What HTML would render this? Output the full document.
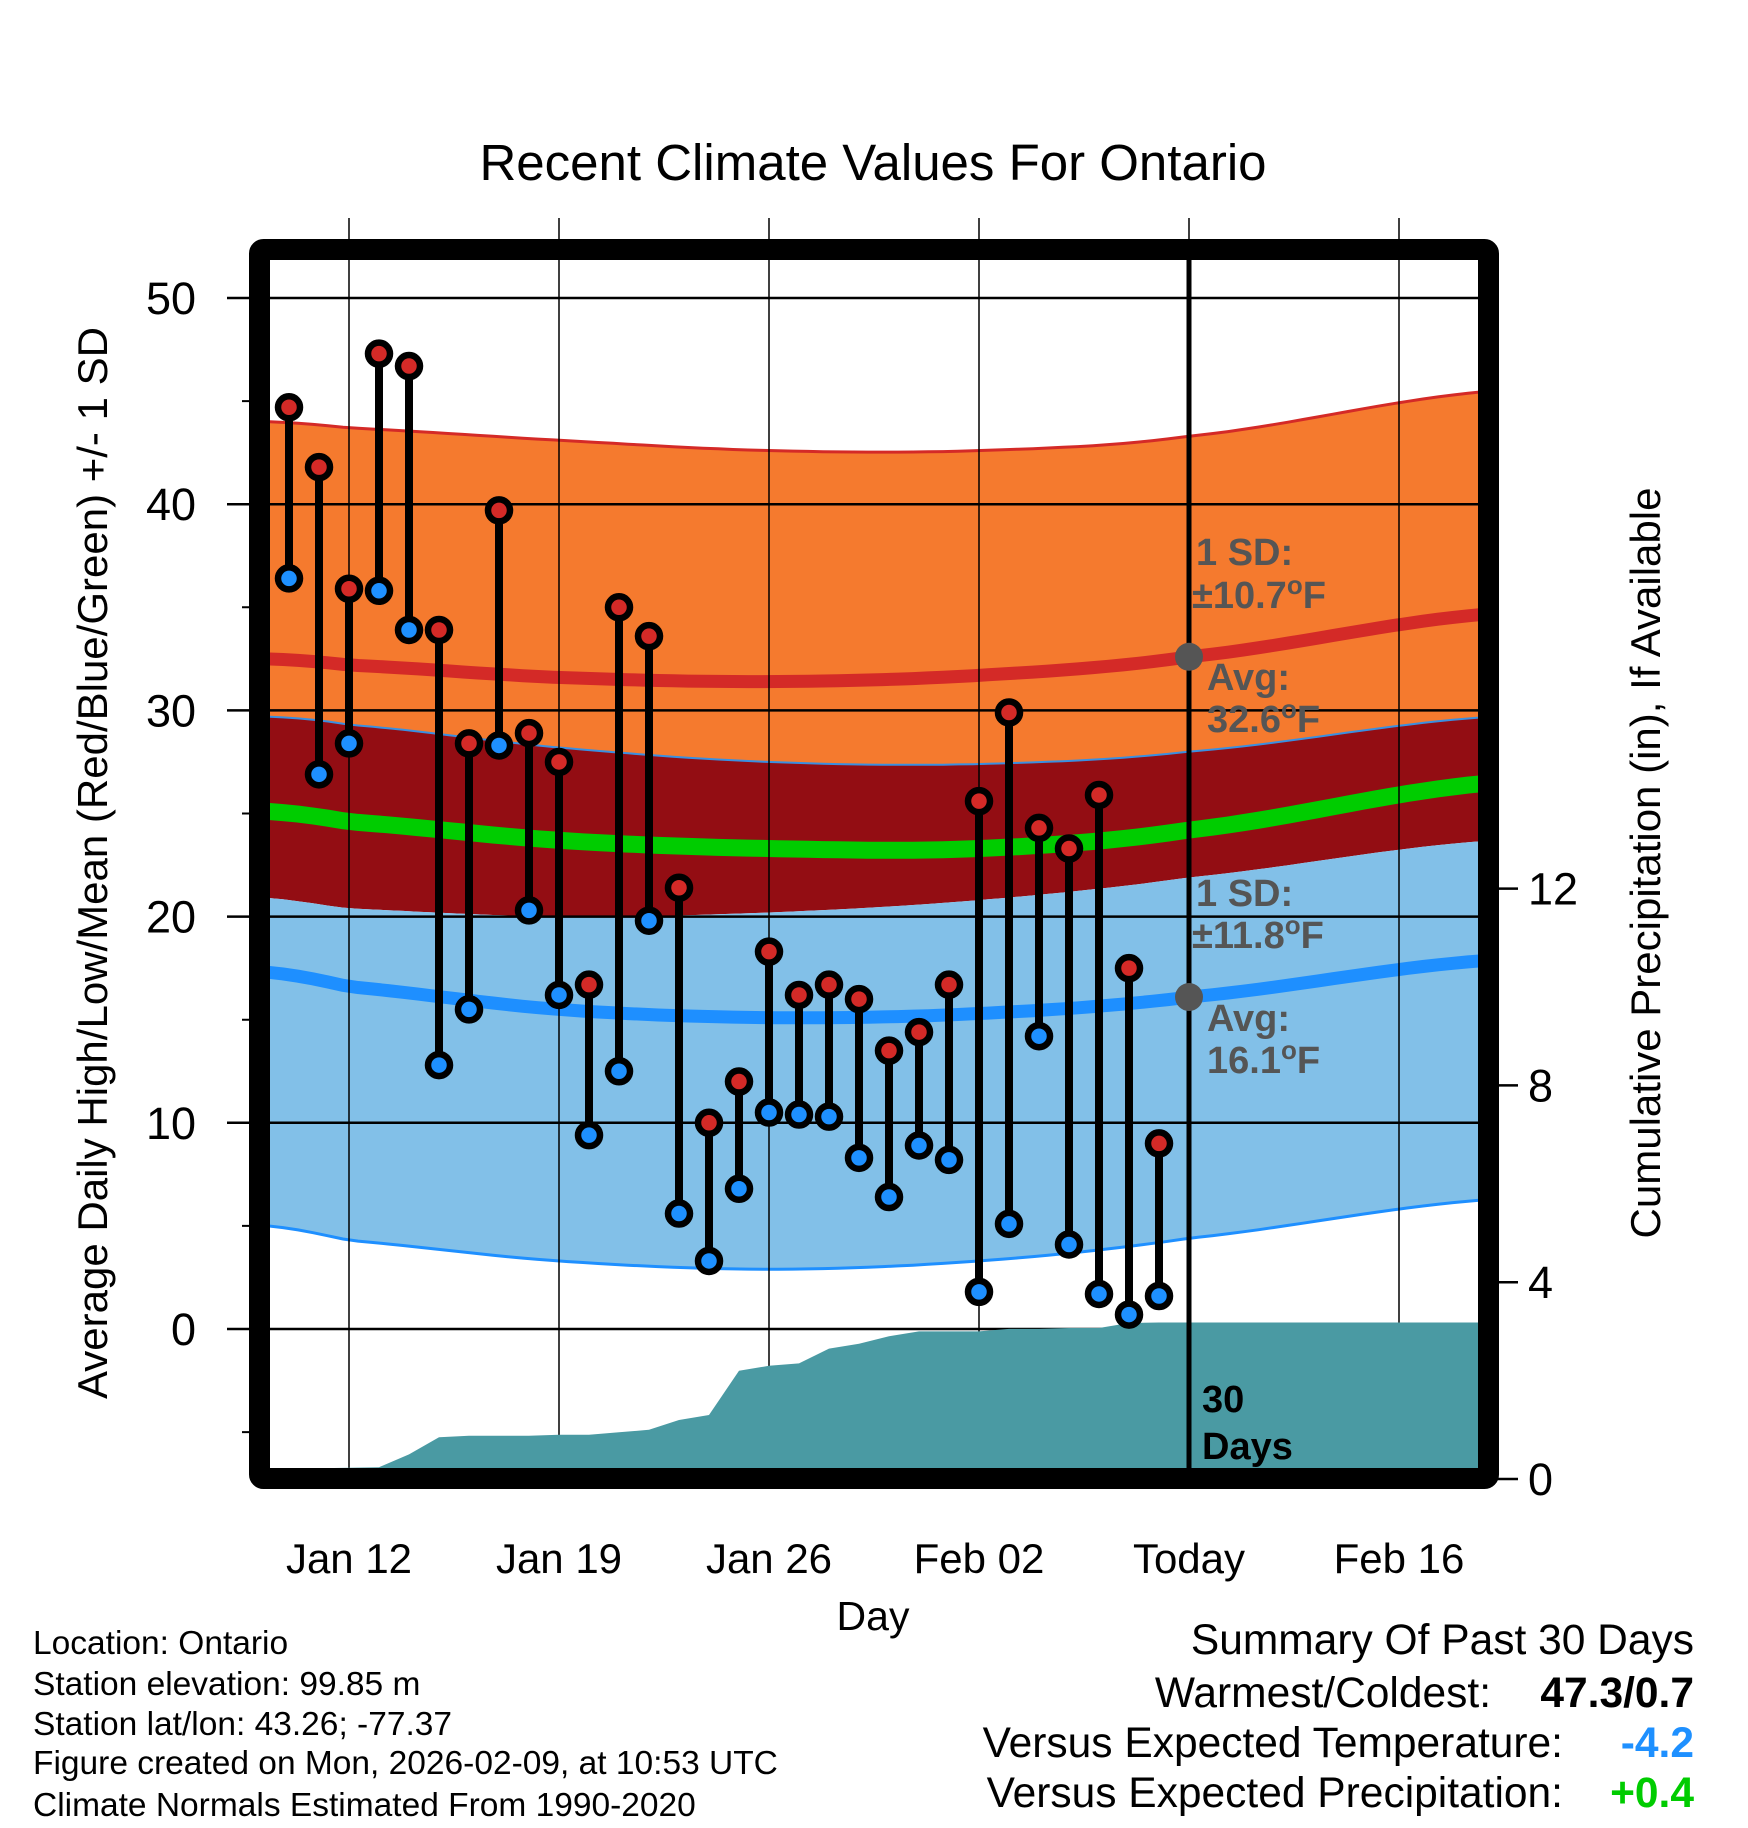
<!DOCTYPE html>
<html><head><meta charset="utf-8"><style>
html,body{margin:0;padding:0;background:#fff;}
svg{display:block;font-family:"Liberation Sans",Arial,sans-serif;}
</style></head><body>
<svg id="chart" width="1748" height="1828" viewBox="0 0 1748 1828" xmlns="http://www.w3.org/2000/svg">
<defs><clipPath id="plotclip"><rect x="270" y="260" width="1209" height="1210"/></clipPath></defs>
<rect x="0" y="0" width="1748" height="1828" fill="#fff"/>
<text x="873" y="180" font-size="51" text-anchor="middle">Recent Climate Values For Ontario</text>
<g id="bands" clip-path="url(#plotclip)"></g>
<g id="grid"></g>
<g id="precip" clip-path="url(#plotclip)"></g>
<g id="marks"></g>
<g id="axes"></g>
<g font-weight="bold" font-size="38" fill="#555">
<text x="1196" y="565">1 SD:</text>
<text x="1192" y="608">±10.7<tspan font-size="26" dy="-14">o</tspan><tspan dy="14">F</tspan></text>
<text x="1207" y="690">Avg:</text>
<text x="1207" y="732">32.6<tspan font-size="26" dy="-14">o</tspan><tspan dy="14">F</tspan></text>
<text x="1196" y="906">1 SD:</text>
<text x="1192" y="948">±11.8<tspan font-size="26" dy="-14">o</tspan><tspan dy="14">F</tspan></text>
<text x="1207" y="1031">Avg:</text>
<text x="1207" y="1073">16.1<tspan font-size="26" dy="-14">o</tspan><tspan dy="14">F</tspan></text>
<text x="1202" y="1412" fill="#000">30</text>
<text x="1202" y="1459" fill="#000">Days</text>
</g>
<text x="873" y="1630" font-size="41" text-anchor="middle">Day</text>
<text transform="translate(107,863) rotate(-90)" font-size="42" text-anchor="middle">Average Daily High/Low/Mean (Red/Blue/Green) +/- 1 SD</text>
<text transform="translate(1660,863) rotate(-90)" font-size="42" text-anchor="middle">Cumulative Precipitation (in), If Available</text>
<g font-size="33.5">
<text x="33" y="1654">Location: Ontario</text>
<text x="33" y="1695">Station elevation: 99.85 m</text>
<text x="33" y="1735">Station lat/lon: 43.26; -77.37</text>
<text x="33" y="1774">Figure created on Mon, 2026-02-09, at 10:53 UTC</text>
<text x="33" y="1816">Climate Normals Estimated From 1990-2020</text>
</g>
<g font-size="42.5">
<text x="1694" y="1654" text-anchor="end">Summary Of Past 30 Days</text>
<text x="1491" y="1707" text-anchor="end">Warmest/Coldest:</text>
<text x="1694" y="1707" text-anchor="end" font-weight="bold">47.3/0.7</text>
<text x="1563" y="1757" text-anchor="end">Versus Expected Temperature:</text>
<text x="1694" y="1757" text-anchor="end" font-weight="bold" fill="#1e90ff">-4.2</text>
<text x="1563" y="1807" text-anchor="end">Versus Expected Precipitation:</text>
<text x="1694" y="1807" text-anchor="end" font-weight="bold" fill="#00cc00">+0.4</text>
</g>
</svg>
<script>
// day offsets relative to Jan 12
const normDays = [-2.7, 0, 7, 14, 21, 28, 38.2];
const hiUpper = [44.0, 43.7, 43.1, 42.6, 42.6, 43.3, 45.5];
const hiAvg   = [32.5, 32.2, 31.6, 31.4, 31.7, 32.6, 34.7];
const hiLower = [29.7, 29.3, 28.2, 27.5, 27.4, 28.0, 29.7];
const meanNorm= [25.1, 24.6, 23.7, 23.3, 23.3, 24.2, 26.5];
const loUpper = [20.9, 20.4, 20.0, 20.2, 20.8, 21.9, 23.7];
const loAvg   = [17.3, 16.6, 15.5, 15.1, 15.3, 16.1, 17.9];
const loLower = [5.0, 4.3, 3.3, 2.9, 3.3, 4.4, 6.3];
const highs = [44.7,41.8,35.9,47.3,46.7,33.9,28.4,39.7,28.9,27.5,16.7,35.0,33.6,21.4,10.0,12.0,18.3,16.2,16.7,16.0,13.5,14.4,16.7,25.6,29.9,24.3,23.3,25.9,17.5,9.0];
const lows  = [36.4,26.9,28.4,35.8,33.9,12.8,15.5,28.3,20.3,16.2,9.4,12.5,19.8,5.6,3.3,6.8,10.5,10.4,10.3,8.3,6.4,8.9,8.2,1.8,5.1,14.2,4.1,1.7,0.7,1.6];
const precip = [0.22,0.22,0.23,0.24,0.5,0.85,0.88,0.88,0.88,0.9,0.9,0.95,1.0,1.2,1.3,2.2,2.3,2.35,2.65,2.75,2.9,3.0,3.0,3.0,3.05,3.05,3.07,3.07,3.17,3.18];
const yTicks = [0,10,20,30,40,50];
const y2Ticks = [0,4,8,12];
const xTickDays = [0,7,14,21,28,35];
const xTickLabels = ["Jan 12","Jan 19","Jan 26","Feb 02","Today","Feb 16"];
const firstDay = -2; // Jan 10
const todayDay = 28;

const NS="http://www.w3.org/2000/svg";
const X = d => 349 + d*30;
const Y = v => 1329 - v*20.62;
const Y2 = p => 1479 - p*49.2;
function mk(tag, attrs, parent){const e=document.createElementNS(NS,tag);for(const k in attrs)e.setAttribute(k,attrs[k]);parent.appendChild(e);return e;}
function interp(arr, d){
  let i=0; while(i<normDays.length-2 && d>normDays[i+1]) i++;
  const t=(d-normDays[i])/(normDays[i+1]-normDays[i]);
  const p0=arr[Math.max(i-1,0)],p1=arr[i],p2=arr[i+1],p3=arr[Math.min(i+2,arr.length-1)];
  return 0.5*((2*p1)+(-p0+p2)*t+(2*p0-5*p1+4*p2-p3)*t*t+(-p0+3*p1-3*p2+p3)*t*t*t);
}
function pts(arr){const r=[];const a=normDays[0],b=normDays[normDays.length-1];for(let d=a;d<b;d+=0.5)r.push([X(d),Y(interp(arr,d))]);r.push([X(b),Y(interp(arr,b))]);return r;}
function line(p){return p.map((q,i)=>(i?'L':'M')+q[0].toFixed(1)+' '+q[1].toFixed(1)).join(' ');}
function band(a,b){const pa=pts(a),pb=pts(b).reverse();return line(pa)+' '+pb.map(q=>'L'+q[0].toFixed(1)+' '+q[1].toFixed(1)).join(' ')+' Z';}

const bands=document.getElementById('bands');
let e;
e=mk('path',{d:band(hiUpper,hiLower),fill:'#f57a2e'},bands);


e=mk('path',{d:band(hiLower,loUpper),fill:'#930d13'},bands);


e=mk('path',{d:band(loUpper,loLower),fill:'#82c0e8'},bands);


e=mk('path',{d:line(pts(hiUpper)),fill:'none',stroke:'#d42a27','stroke-width':3},bands);


e=mk('path',{d:line(pts(hiLower)),fill:'none',stroke:'#3a8fe0','stroke-width':2},bands);


e=mk('path',{d:line(pts(loLower)),fill:'none',stroke:'#1e8fff','stroke-width':3},bands);


e=mk('path',{d:line(pts(meanNorm)),fill:'none',stroke:'#00cc00','stroke-width':17},bands);


e=mk('path',{d:line(pts(hiAvg)),fill:'none',stroke:'#d42a27','stroke-width':13},bands);


e=mk('path',{d:line(pts(loAvg)),fill:'none',stroke:'#1e8fff','stroke-width':13},bands);



const grid=document.getElementById('grid');
yTicks.forEach(v=>{
  e=mk('line',{x1:227,x2:1479,y1:Y(v),y2:Y(v),stroke:'#000','stroke-width':2.5},grid);
  
  
});
for(let v=-5;v<=50;v+=10){
  e=mk('line',{x1:242,x2:260,y1:Y(v),y2:Y(v),stroke:'#000','stroke-width':2},grid);
  
  
}
xTickDays.forEach(d=>{
  e=mk('line',{x1:X(d),x2:X(d),y1:218,y2:1470,stroke:'#000','stroke-width':1.5},grid);
  
  
});

const pr=document.getElementById('precip');
let pd='M270 '+Y2(precip[0]).toFixed(1);
precip.forEach((p,i)=>{pd+=' L'+X(firstDay+i)+' '+Y2(p).toFixed(1);});
pd+=' L1479 '+Y2(precip[precip.length-1]).toFixed(1)+' L1479 1470 L270 1470 Z';
e=mk('path',{d:pd,fill:'#4a9aa3'},pr);



const marks=document.getElementById('marks');
highs.forEach((h,i)=>{
  const x=X(firstDay+i);
  e=mk('line',{x1:x,x2:x,y1:Y(h),y2:Y(lows[i]),stroke:'#000','stroke-width':8},marks);
  
  
  e=mk('circle',{cx:x,cy:Y(h),r:11,fill:'#d42a27',stroke:'#000','stroke-width':6.5},marks);
  
  
  e=mk('circle',{cx:x,cy:Y(lows[i]),r:11,fill:'#1e90ff',stroke:'#000','stroke-width':6.5},marks);
  
  
});

const axes=document.getElementById('axes');
e=mk('line',{x1:X(todayDay),x2:X(todayDay),y1:260,y2:1470,stroke:'#000','stroke-width':5},axes);


e=mk('circle',{cx:X(todayDay),cy:Y(interp(hiAvg,todayDay)),r:14,fill:'#555'},axes);


e=mk('circle',{cx:X(todayDay),cy:Y(interp(loAvg,todayDay)),r:14,fill:'#555'},axes);


e=mk('rect',{x:259.5,y:249.5,width:1229,height:1229,fill:'none',stroke:'#000','stroke-width':21,rx:4},axes);


yTicks.forEach(v=>{
  e=mk('text',{x:196,y:Y(v)+16,'font-size':45,'text-anchor':'end'},axes);
  e.textContent=v;
  
  
});
y2Ticks.forEach(p=>{
  e=mk('line',{x1:1496,x2:1518,y1:Y2(p),y2:Y2(p),stroke:'#000','stroke-width':2.5},axes);
  
  
  e=mk('text',{x:1528,y:Y2(p)+16,'font-size':45},axes);
  e.textContent=p;
  
  
});
xTickDays.forEach((d,i)=>{
  e=mk('text',{x:X(d),y:1573,'font-size':42,'text-anchor':'middle'},axes);
  e.textContent=xTickLabels[i];
  
  
});
</script>
</body></html>
